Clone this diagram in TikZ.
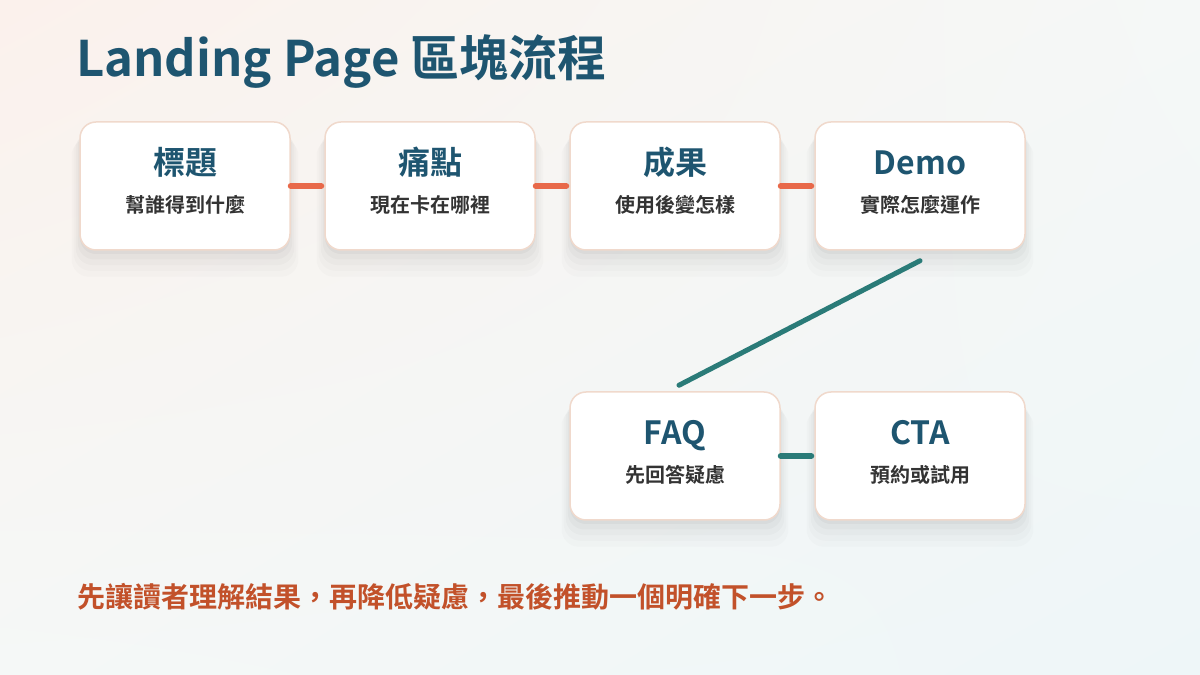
\documentclass[tikz,border=0pt]{standalone}
\usepackage{fontspec}
\setmainfont{Noto Sans CJK TC}[BoldFont={Noto Sans CJK TC Bold}]
\usetikzlibrary{shadows,shadings}

\definecolor{inkblue}{HTML}{1E5570}
\definecolor{inkgray}{HTML}{333333}
\definecolor{flowred}{HTML}{E8694A}
\definecolor{flowteal}{HTML}{2A7B78}
\definecolor{noteorange}{HTML}{C2512A}
\definecolor{cardline}{HTML}{F0D9CC}
\definecolor{bgwarm}{HTML}{FBF1EC}
\definecolor{bgmid}{HTML}{F5F8F7}
\definecolor{bgcool}{HTML}{EEF6F8}

\tikzset{
  card/.style={draw=cardline, line width=1.5pt, fill=white, rounded corners=16pt,
    minimum width=210pt, minimum height=128pt, inner sep=0pt,
    general shadow={fill=black, opacity=0.014, shadow yshift=-20pt, shadow scale=1.08},
    general shadow={fill=black, opacity=0.016, shadow yshift=-16pt, shadow scale=1.06},
    general shadow={fill=black, opacity=0.02, shadow yshift=-12pt, shadow scale=1.04},
    general shadow={fill=black, opacity=0.024, shadow yshift=-8pt, shadow scale=1.02},
    general shadow={fill=black, opacity=0.03, shadow yshift=-4pt}},
  cardtitle/.style={anchor=base, font=\fontsize{32}{38}\selectfont\bfseries, text=inkblue, inner sep=0pt},
  cardsub/.style={anchor=base, font=\fontsize{20}{24}\selectfont\bfseries, text=inkgray, inner sep=0pt},
  redlink/.style={draw=flowred, line width=6pt, line cap=round},
  teallink/.style={draw=flowteal, line width=6pt, line cap=round},
}

\begin{document}
\begin{tikzpicture}[x=1pt, y=1pt]%
\shade[upper left=bgwarm, upper right=bgmid, lower left=bgmid, lower right=bgcool] (0,0) rectangle (1200,675);%
\useasboundingbox (0,0) rectangle (1200,675);%
\node[anchor=west, inner sep=0pt, font=\fontsize{49}{59}\selectfont\bfseries, text=inkblue] (heading) at (76,613) {Landing Page 區塊流程};%
\node[card] (hero) at (185,489) {};%
\node[cardtitle] (heroT) at ([yshift=11]hero.center) {標題};%
\node[cardsub] (heroS) at ([yshift=-27]hero.center) {幫誰得到什麼};%
\node[card] (pain) at (430,489) {};%
\node[cardtitle] (painT) at ([yshift=11]pain.center) {痛點};%
\node[cardsub] (painS) at ([yshift=-27]pain.center) {現在卡在哪裡};%
\node[card] (result) at (675,489) {};%
\node[cardtitle] (resultT) at ([yshift=11]result.center) {成果};%
\node[cardsub] (resultS) at ([yshift=-27]result.center) {使用後變怎樣};%
\node[card] (demo) at (920,489) {};%
\node[cardtitle] (demoT) at ([yshift=11]demo.center) {Demo};%
\node[cardsub] (demoS) at ([yshift=-27]demo.center) {實際怎麼運作};%
\node[card] (faq) at (675,219) {};%
\node[cardtitle] (faqT) at ([yshift=11]faq.center) {FAQ};%
\node[cardsub] (faqS) at ([yshift=-27]faq.center) {先回答疑慮};%
\node[card] (cta) at (920,219) {};%
\node[cardtitle] (ctaT) at ([yshift=11]cta.center) {CTA};%
\node[cardsub] (ctaS) at ([yshift=-27]cta.center) {預約或試用};%
\draw[redlink] (hero.east) -- ([xshift=-3]pain.west);%
\draw[redlink] (pain.east) -- ([xshift=-3]result.west);%
\draw[redlink] (result.east) -- ([xshift=-3]demo.west);%
\draw[teallink, line width=5pt] ([yshift=-10]demo.south) -- ([xshift=4,yshift=6]faq.north);%
\draw[teallink] (faq.east) -- ([xshift=-3]cta.west);%
\node[anchor=west, inner sep=0pt, font=\fontsize{28}{34}\selectfont\bfseries, text=noteorange] (note) at (77,78) {先讓讀者理解結果，再降低疑慮，最後推動一個明確下一步。};%
\end{tikzpicture}
\end{document}
